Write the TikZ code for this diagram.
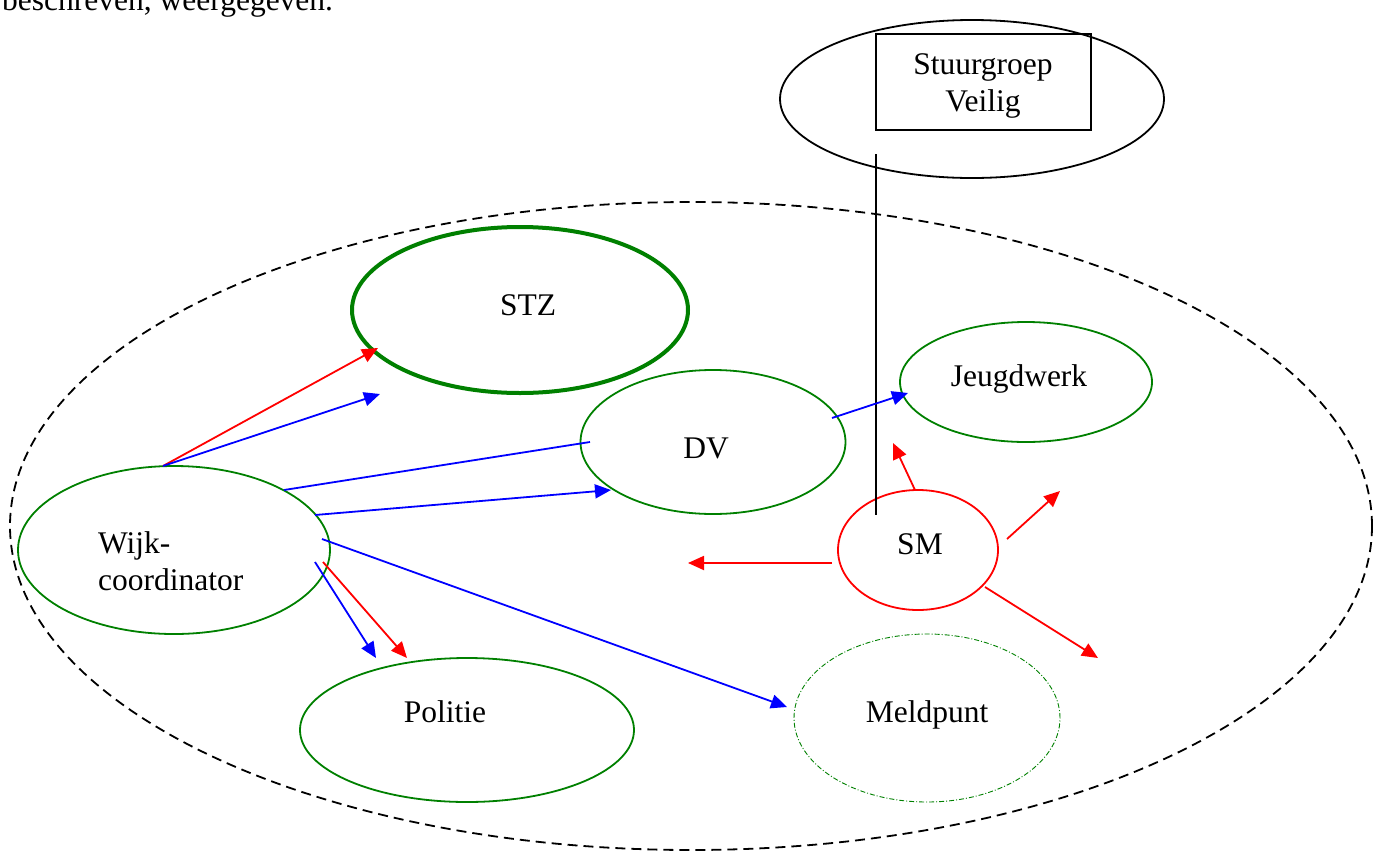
\documentclass[tikz,border=0pt]{standalone}
\usepackage{fontspec}
\setmainfont{Liberation Serif}
\usetikzlibrary{shapes.geometric,arrows.meta}
\definecolor{orggreen}{RGB}{0,128,0}
\definecolor{orgred}{RGB}{255,0,0}
\definecolor{orgblue}{RGB}{0,0,255}
\begin{document}
\begin{tikzpicture}[x=1pt,y=-1pt,
  every node/.style={font=\fontsize{31.5}{37}\selectfont},
  oval/.style={ellipse,draw=orggreen,line width=1.8pt,inner sep=0pt},
  label text/.style={anchor=base,inner sep=0pt},
  redarrow/.style={draw=orgred,line width=1.8pt,-{Triangle[length=16pt,width=14pt]}},
  bluearrow/.style={draw=orgblue,line width=1.8pt,-{Triangle[length=16pt,width=14pt]}},
  blueline/.style={draw=orgblue,line width=1.8pt}]
\clip (0,0) rectangle (1374,852);
\useasboundingbox (0,0) rectangle (1374,852);

% running text above the figure
\node[anchor=base west,inner sep=0pt] (prose) at (2,10) {beschreven, weergegeven.};

% steering group
\node[ellipse,draw=black,line width=1.8pt,inner sep=0pt,minimum width=384pt,minimum height=158pt] (sgring) at (972,99) {};
\node[draw=black,line width=1.8pt,minimum width=215pt,minimum height=96pt,inner sep=0pt] (sgbox) at (983.5,82) {};
\node[align=center,inner sep=0pt] (sgtext) at (983,86) {Stuurgroep\\Veilig};

% neighbourhood network
\node[ellipse,draw=black,line width=1.8pt,dash pattern=on 10pt off 6pt,inner sep=0pt,minimum width=1362pt,minimum height=648pt] (wijk) at (691,526) {};

\node[oval,draw=orggreen,line width=4pt,minimum width=336pt,minimum height=166pt] (stz) at (520,310) {};
\node[label text] (stzt) at (528,315) {STZ};

\node[oval,minimum width=252pt,minimum height=120pt] (jeugd) at (1026,382) {};
\node[label text] (jeugdt) at (1019,386) {Jeugdwerk};

\node[oval,minimum width=265pt,minimum height=144pt] (dv) at (713,442) {};
\node[label text] (dvt) at (706,458) {DV};

\node[oval,minimum width=312pt,minimum height=168pt] (wc) at (174,550) {};
\node[anchor=west,align=left,inner sep=0pt] (wct) at (98,561) {Wijk-\\coordinator};

\node[oval,draw=orgred,minimum width=160pt,minimum height=120pt] (sm) at (918,550) {};
\node[label text] (smt) at (920,554) {SM};

\node[oval,minimum width=334pt,minimum height=144pt] (pol) at (467,730) {};
\node[label text] (polt) at (445,722) {Politie};

\node[oval,line width=0.9pt,dash pattern=on 5pt off 2pt on 1pt off 2pt,minimum width=266pt,minimum height=168pt] (meld) at (927,718) {};
\node[label text] (meldt) at (927,722) {Meldpunt};

% line from the steering group down to SM
\coordinate (sgfoot) at (876,154);
\coordinate (smtop) at (876,515);
\draw[line width=1.8pt] (sgfoot) -- (smtop);

% connectors leaving the coordinator
\coordinate (wtop) at (163,466);
\coordinate (stzhitR) at (378,348);
\coordinate (stzhitB) at (380,394);
\coordinate (wdv1) at (284,490);
\coordinate (dvin) at (590,442);
\coordinate (wdv2) at (315,515);
\coordinate (dvhit) at (611,490);
\coordinate (wmeld) at (322,539);
\coordinate (meldhit) at (787,707);
\coordinate (wpolB) at (315,562);
\coordinate (polhitB) at (376,658);
\coordinate (wpolR) at (323,562);
\coordinate (polhitR) at (407,658);

\draw[redarrow] (wtop) -- (stzhitR);
\draw[bluearrow] (wtop) -- (stzhitB);
\draw[blueline] (wdv1) -- (dvin);
\draw[bluearrow] (wdv2) -- (dvhit);
\draw[bluearrow] (wmeld) -- (meldhit);
\draw[bluearrow] (wpolB) -- (polhitB);
\draw[redarrow] (wpolR) -- (polhitR);

% DV to youth work
\coordinate (dvout) at (832,418);
\coordinate (jeugdhit) at (908,393);
\draw[bluearrow] (dvout) -- (jeugdhit);

% arrows radiating from SM
\coordinate (smn) at (915,490);
\coordinate (smnend) at (893,443);
\coordinate (smw) at (832,563);
\coordinate (smwend) at (688,563);
\coordinate (smne) at (1007,539);
\coordinate (smneend) at (1060,491);
\coordinate (smse) at (985,587);
\coordinate (smseend) at (1098,658);
\draw[redarrow] (smn) -- (smnend);
\draw[redarrow] (smw) -- (smwend);
\draw[redarrow] (smne) -- (smneend);
\draw[redarrow] (smse) -- (smseend);
\end{tikzpicture}
\end{document}
